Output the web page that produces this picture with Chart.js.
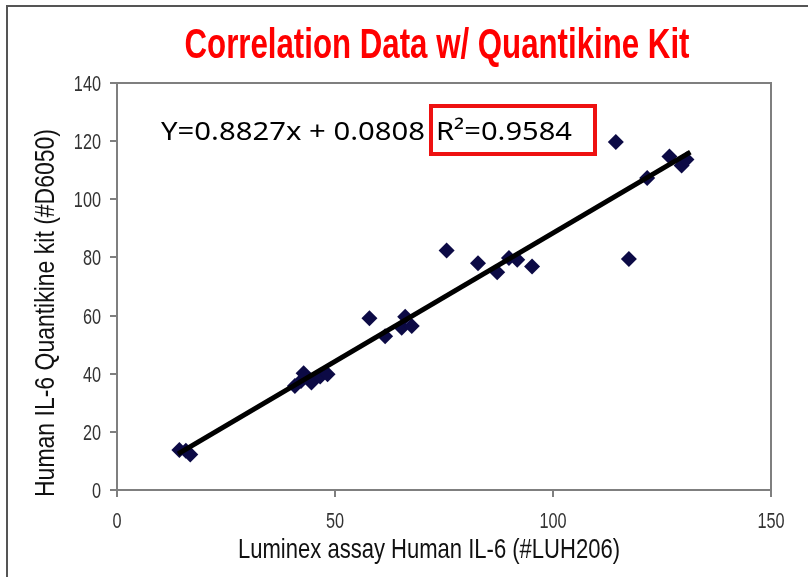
<!DOCTYPE html>
<html>
<head>
<meta charset="utf-8">
<script src="https://cdn.jsdelivr.net/npm/chart.js@4.4.1/dist/chart.umd.min.js"></script>
<style>
html, body { margin: 0; padding: 0; background: #fff; }
</style>
</head>
<body>
<canvas id="corr" width="808" height="577"></canvas>
<script>
// values
var luminex    = [14.3, 15.8, 16.8, 40.8, 42.2, 42.8, 44.6, 46.6, 48.3, 57.9, 61.5, 65.3, 66.1, 67.6,
                  75.6, 82.8, 87.2, 89.9, 91.8, 95.2, 114.4, 117.4, 121.6, 126.7, 129.5, 130.6];
var quantikine = [13.8, 13.5, 12.2, 35.8, 37.5, 40.2, 37.0, 39.0, 39.8, 59.1, 52.9, 55.8, 59.6, 56.4,
                  82.4, 78.0, 74.9, 79.8, 79.2, 76.9, 119.7, 79.5, 107.3, 114.7, 111.6, 113.7];
var fitX   = [14, 131.5];
var fitY   = [12.4, 116.2];
var xTicks = [0, 50, 100, 150];
var yTicks = [0, 20, 40, 60, 80, 100, 120, 140];

var titleText = 'Correlation Data w/ Quantikine Kit';
var xTitle    = 'Luminex assay Human IL-6 (#LUH206)';
var yTitle    = 'Human IL-6 Quantikine kit (#D6050)';
var eqText    = 'Y=0.8827x + 0.0808';
var r2Text    = 'R\u00B2=0.9584';

var sans = '"Liberation Sans", Arial, sans-serif';

// draw text squeezed sideways, either to a width or by a factor
function narrowText(ctx, txt, x, y, opts) {
    ctx.save();
    ctx.font = opts.font;
    var sx = opts.width ? opts.width / ctx.measureText(txt).width : (opts.sx || 1);
    ctx.translate(x, y);
    if (opts.rot) ctx.rotate(opts.rot);
    ctx.scale(sx, 1);
    ctx.fillStyle = opts.color;
    ctx.textAlign = opts.align || 'center';
    ctx.textBaseline = 'alphabetic';
    ctx.fillText(txt, 0, 0);
    ctx.restore();
}

var decor = {
    id: 'decor',
    beforeDraw: function(chart) {
        var ctx = chart.ctx;
        ctx.save();
        ctx.fillStyle = '#fff';
        ctx.fillRect(0, 0, chart.width, chart.height);
        ctx.restore();
    },
    afterDraw: function(chart) {
        var ctx = chart.ctx, a = chart.chartArea;
        var xs = chart.scales.x, ys = chart.scales.y;
        ctx.save();
        // box round the plot
        ctx.strokeStyle = '#7f7f7f';
        ctx.lineWidth = 2;
        ctx.strokeRect(a.left, a.top, a.right - a.left, a.bottom - a.top);
        // outer frame (left and top only)
        ctx.strokeStyle = '#555';
        ctx.lineWidth = 2;
        ctx.beginPath();
        ctx.moveTo(7, 577);
        ctx.lineTo(7, 6);
        ctx.lineTo(808, 6);
        ctx.stroke();
        // red box round R2
        ctx.strokeStyle = '#ee1111';
        ctx.lineWidth = 4;
        ctx.strokeRect(431, 106, 164, 48);
        ctx.restore();

        // tick labels, placed by the chart's own scales
        xs.ticks.forEach(function(t) {
            narrowText(ctx, String(t.value), xs.getPixelForValue(t.value), 528,
                { font: '22px ' + sans, sx: 0.74, color: '#333' });
        });
        ys.ticks.forEach(function(t) {
            narrowText(ctx, String(t.value), 101, ys.getPixelForValue(t.value) + 8,
                { font: '22px ' + sans, sx: 0.74, color: '#333', align: 'right' });
        });

        narrowText(ctx, titleText, 437, 58, { font: 'bold 43px ' + sans, width: 505, color: '#ff0000' });
        narrowText(ctx, eqText, 161, 140, { font: '26px "Noto Sans", "Open Sans", sans-serif', width: 264, color: '#000', align: 'left' });
        narrowText(ctx, r2Text, 436, 140, { font: '26px "Noto Sans", "Open Sans", sans-serif', width: 136, color: '#000', align: 'left' });
        narrowText(ctx, xTitle, 429, 558, { font: '28px ' + sans, width: 382, color: '#111' });
        narrowText(ctx, yTitle, 54, 313, { font: '28px ' + sans, width: 368, color: '#111', rot: -Math.PI / 2 });
    }
};

var ctx = document.getElementById('corr').getContext('2d');
var chart = new Chart(ctx, {
    type: 'scatter',
    data: {
        datasets: [
            {
                type: 'line',
                data: fitX.map(function(x, i) { return { x: x, y: fitY[i] }; }),
                borderColor: '#000',
                borderWidth: 5,
                pointRadius: 0,
                fill: false,
                order: 0
            },
            {
                data: luminex.map(function(x, i) { return { x: x, y: quantikine[i] }; }),
                pointStyle: 'rectRot',
                pointRadius: 8,
                pointBackgroundColor: '#0c0a45',
                pointBorderWidth: 0,
                order: 1
            }
        ]
    },
    options: {
        responsive: false,
        animation: false,
        layout: { padding: { left: 0, top: 83, right: 37, bottom: 0 } },
        plugins: {
            legend: { display: false },
            tooltip: { enabled: false },
            title: { display: false }
        },
        scales: {
            x: {
                type: 'linear',
                min: 0, max: 150,
                afterBuildTicks: function(s) { s.ticks = xTicks.map(function(v) { return { value: v }; }); },
                afterFit: function(s) { s.height = 87; },
                grid: { drawOnChartArea: false, drawTicks: true, tickLength: 7, color: '#7f7f7f', lineWidth: 2 },
                border: { display: true, color: '#7f7f7f', width: 2 },
                ticks: { color: 'rgba(0,0,0,0)', padding: 10, maxRotation: 0, font: { size: 20 } }
            },
            y: {
                type: 'linear',
                min: 0, max: 140,
                afterBuildTicks: function(s) { s.ticks = yTicks.map(function(v) { return { value: v }; }); },
                afterFit: function(s) { s.width = 117; },
                grid: { drawOnChartArea: false, drawTicks: true, tickLength: 7, color: '#7f7f7f', lineWidth: 2 },
                border: { display: true, color: '#7f7f7f', width: 2 },
                ticks: { color: 'rgba(0,0,0,0)', padding: 9, font: { size: 20 } }
            }
        }
    },
    plugins: [decor]
});
</script>
</body>
</html>
